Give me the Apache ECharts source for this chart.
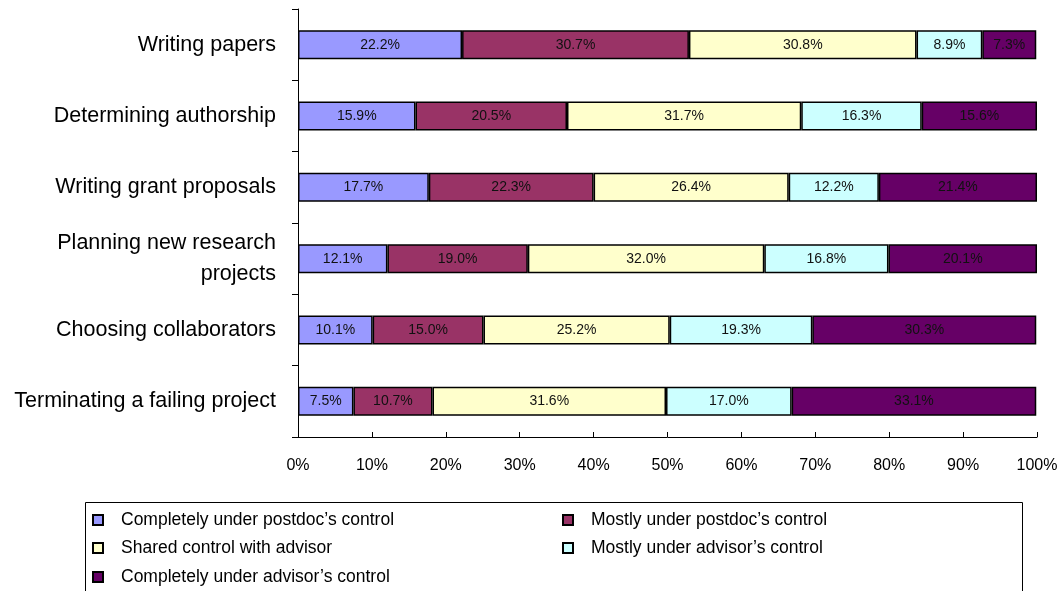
<!DOCTYPE html>
<html>
<head>
<meta charset="utf-8">
<script src="https://cdn.jsdelivr.net/npm/echarts@6/dist/echarts.min.js"></script>
<style>
html,body{margin:0;padding:0;background:#fff;}
#chart{width:1063px;height:591px;}
</style>
</head>
<body>
<div id="chart"></div>
<script>
const categories = [
  "Writing papers",
  "Determining authorship",
  "Writing grant proposals",
  "Planning new research\nprojects",
  "Choosing collaborators",
  "Terminating a failing project"
];
const seriesNames = [
  "Completely under postdoc’s control",
  "Mostly under postdoc’s control",
  "Shared control with advisor",
  "Mostly under advisor’s control",
  "Completely under advisor’s control"
];
const completelyPostdoc = [22.2, 15.9, 17.7, 12.1, 10.1, 7.5];
const mostlyPostdoc     = [30.7, 20.5, 22.3, 19.0, 15.0, 10.7];
const sharedControl     = [30.8, 31.7, 26.4, 32.0, 25.2, 31.6];
const mostlyAdvisor     = [8.9, 16.3, 12.2, 16.8, 19.3, 17.0];
const completelyAdvisor = [7.3, 15.6, 21.4, 20.1, 30.3, 33.1];
const xTicks = [0, 10, 20, 30, 40, 50, 60, 70, 80, 90, 100];

const seriesValues = [completelyPostdoc, mostlyPostdoc, sharedControl, mostlyAdvisor, completelyAdvisor];
const colors = ["#9999FF", "#993366", "#FFFFCC", "#CCFFFF", "#660066"];
const font = "'Liberation Sans', Arial, sans-serif";

const chart = echarts.init(document.getElementById('chart'), null, {renderer: 'canvas'});

const series = seriesValues.map((vals, i) => ({
  name: seriesNames[i],
  type: 'bar',
  stack: 'total',
  barWidth: 29,
  data: vals,
  itemStyle: {color: colors[i], borderColor: '#000', borderWidth: 1.5},
  label: {
    show: true,
    position: 'inside',
    color: '#111',
    fontFamily: font,
    fontSize: 14,
    formatter: p => p.value.toFixed(1) + '%'
  },
  emphasis: {disabled: true}
}));

// legend slots: [series index, left, row center y]
const legendSlots = [[0, 92, 520], [1, 562, 520], [2, 92, 548], [3, 562, 548], [4, 92, 577]];
const legends = legendSlots.map(([idx, left, cy]) => ({
  left: left,
  top: cy - 9,
  padding: 0,
  orient: 'horizontal',
  itemWidth: 10,
  itemHeight: 10,
  icon: 'rect',
  selectedMode: false,
  data: [seriesNames[idx]],
  textStyle: {fontFamily: font, fontSize: 17.5, color: '#000', lineHeight: 18, padding: [0, 0, 0, 13]}
}));

chart.setOption({
  animation: false,
  backgroundColor: '#fff',
  color: colors,
  grid: {left: 298, right: 26, top: 9, height: 428, containLabel: false, outerBoundsMode: 'none'},
  xAxis: {
    type: 'value',
    min: 0,
    max: 100,
    interval: 10,
    axisLine: {show: true, lineStyle: {color: '#000', width: 1}},
    axisTick: {show: true, inside: true, length: 5, lineStyle: {color: '#000'}},
    splitLine: {show: false},
    axisLabel: {
      margin: 21,
      color: '#000',
      fontFamily: font,
      fontSize: 16,
      formatter: v => v + '%',
      customValues: xTicks
    }
  },
  yAxis: {
    type: 'category',
    inverse: true,
    data: categories,
    axisLine: {show: true, lineStyle: {color: '#000', width: 1}},
    axisTick: {show: true, inside: false, length: 6, lineStyle: {color: '#000'}},
    axisLabel: {
      margin: 22,
      color: '#000',
      fontFamily: font,
      fontSize: 21.5,
      lineHeight: 31,
      align: 'right'
    }
  },
  legend: legends,
  graphic: [{
    type: 'rect',
    shape: {x: 85.5, y: 502.5, width: 937, height: 100},
    style: {fill: 'none', stroke: '#000', lineWidth: 1},
    silent: true
  }],
  series: series
});
</script>
</body>
</html>
